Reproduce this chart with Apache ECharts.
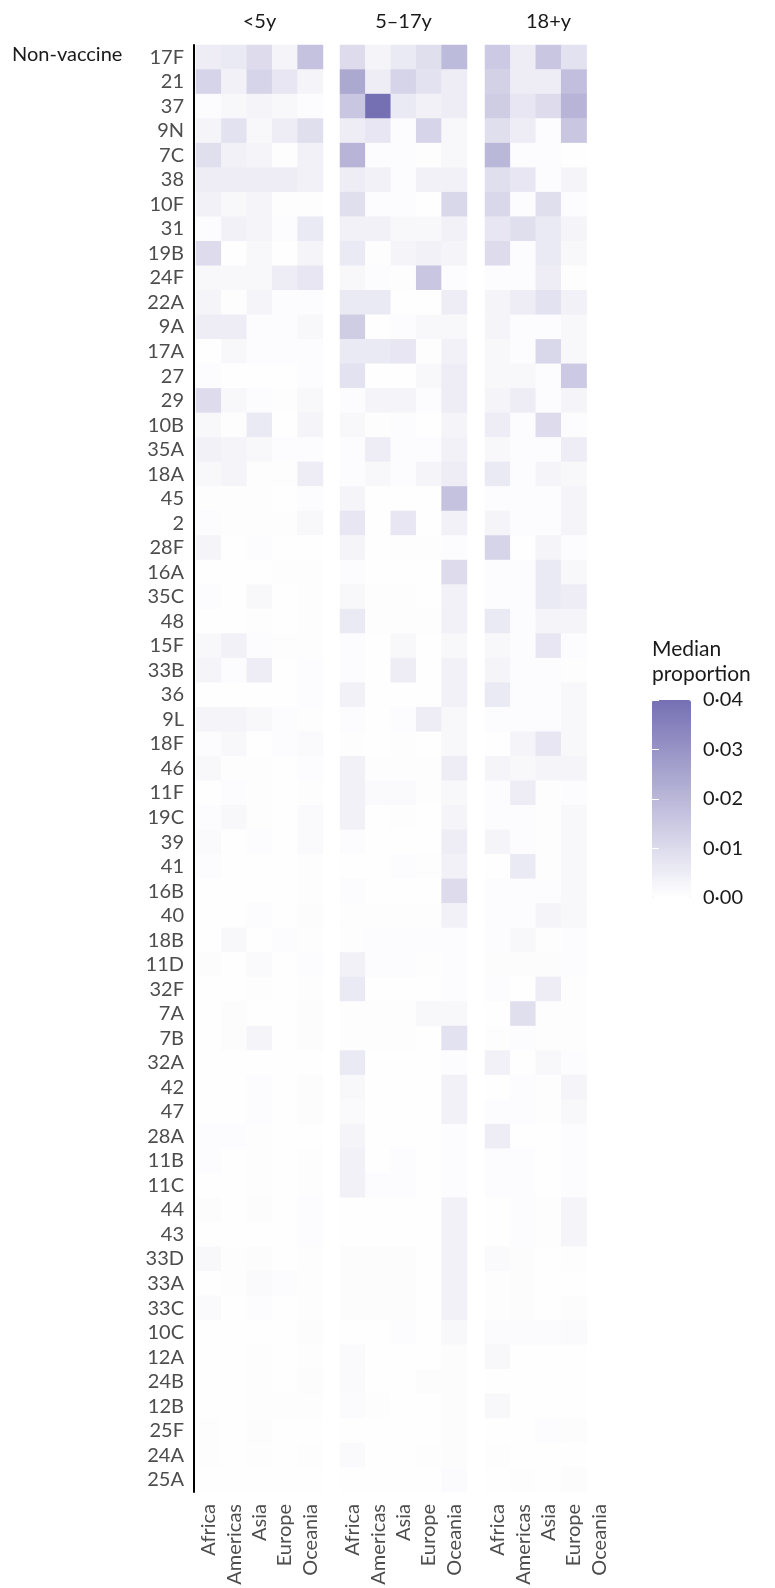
<!DOCTYPE html>
<html>
<head>
<meta charset="utf-8">
<script src="https://cdn.jsdelivr.net/npm/echarts@6/dist/echarts.min.js"></script>
<style>
  html, body { margin: 0; padding: 0; background: #ffffff; }
  #chart { width: 775px; height: 1588px; }
</style>
</head>
<body>
<div id="chart"></div>
<script>
// Median proportion of non-vaccine serotypes by age group and region
const ageGroups = ['<5y', '5–17y', '18+y'];
const regions = ['Africa', 'Americas', 'Asia', 'Europe', 'Oceania'];
const serotypes = [
  '17F', '21', '37', '9N', '7C', '38', '10F', '31', '19B', '24F',
  '22A', '9A', '17A', '27', '29', '10B', '35A', '18A', '45', '2',
  '28F', '16A', '35C', '48', '15F', '33B', '36', '9L', '18F', '46',
  '11F', '19C', '39', '41', '16B', '40', '18B', '11D', '32F', '7A',
  '7B', '32A', '42', '47', '28A', '11B', '11C', '44', '43', '33D',
  '33A', '33C', '10C', '12A', '24B', '12B', '25F', '24A', '25A'
];
const legendTicks = [0, 0.01, 0.02, 0.03, 0.04];

// <5y
const u5Africa = [
  .005, .012, .001, .003, .009, .005, .004, .001, .010, .002,
  .003, .005, .0003, .001, .010, .002, .004, .002, .0005, .001,
  .003, .0003, .001, .0003, .002, .003, .0003, .003, .001, .002,
  .0003, .001, .0015, .001, .0003, .0003, .0003, .0008, .0003, .0003,
  .0003, .0003, .0003, .0003, .001, .001, .0003, .0008, .0003, .002,
  .0003, .0015, .0003, .0003, .0003, .0003, .0005, .0005, .0003
];
const u5Americas = [
  .006, .004, .002, .008, .004, .005, .002, .004, .0003, .002,
  .0005, .005, .002, .0003, .002, .0005, .003, .003, .0005, .0005,
  .0003, .0003, .0003, .0003, .004, .001, .0003, .003, .002, .0005,
  .001, .002, .0003, .0003, .0003, .0003, .002, .0003, .0003, .0008,
  .0008, .0003, .0003, .0003, .001, .0003, .0003, .0003, .0003, .0005,
  .0005, .0003, .0003, .0003, .0003, .0003, .0003, .0003, .0003
];
const u5Asia = [
  .010, .012, .003, .002, .003, .005, .003, .003, .002, .002,
  .003, .001, .001, .0003, .001, .006, .002, .0005, .0005, .0005,
  .001, .0003, .002, .0005, .001, .005, .0003, .002, .0003, .0005,
  .0005, .0005, .001, .0003, .0003, .001, .0003, .0015, .0005, .0003,
  .003, .0003, .001, .001, .0005, .0005, .0005, .0008, .0003, .0008,
  .0015, .001, .0003, .0005, .0005, .0005, .0008, .0005, .0003
];
const u5Europe = [
  .003, .007, .002, .005, .0005, .005, .0005, .001, .0003, .005,
  .001, .001, .001, .0003, .0005, .0003, .001, .0005, .0003, .0005,
  .0003, .0005, .0003, .0003, .0005, .0003, .0003, .001, .001, .0003,
  .0003, .0003, .0003, .0003, .0003, .0003, .001, .0003, .0003, .0003,
  .0003, .0003, .0003, .0003, .0003, .0003, .0003, .0003, .0003, .0003,
  .001, .0003, .0003, .0003, .0003, .0005, .0003, .0003, .0003
];
const u5Oceania = [
  .017, .003, .001, .009, .004, .004, .0005, .006, .003, .007,
  .001, .002, .001, .001, .002, .003, .001, .005, .001, .002,
  .0003, .0005, .0005, .0005, .0005, .001, .001, .0005, .0015, .001,
  .0005, .0015, .0015, .0005, .0005, .0008, .0005, .001, .0005, .0008,
  .0008, .0003, .0008, .0008, .0003, .0005, .0005, .001, .001, .0005,
  .0005, .0005, .0008, .0005, .0008, .0005, .0003, .0005, .0003
];

// 5–17y
const childAfrica = [
  .010, .024, .016, .005, .021, .005, .009, .004, .006, .002,
  .006, .014, .006, .008, .001, .002, .001, .001, .003, .007,
  .003, .001, .002, .006, .001, .001, .004, .001, .0005, .004,
  .004, .004, .001, .0003, .001, .0005, .0005, .004, .006, .0005,
  .0005, .006, .002, .0015, .003, .004, .004, .0003, .0003, .0008,
  .0008, .0008, .0003, .0015, .0015, .0012, .0003, .0015, .0003
];
const childAmericas = [
  .003, .005, .040, .007, .001, .004, .001, .004, .0005, .001,
  .006, .0003, .006, .0003, .003, .0005, .005, .002, .0003, .0003,
  .0003, .0003, .0005, .0005, .0003, .0003, .0003, .0003, .0003, .0005,
  .0015, .0003, .0003, .0003, .0003, .0005, .001, .001, .0003, .0005,
  .0005, .0003, .0003, .0003, .0003, .0003, .001, .0003, .0003, .0008,
  .0008, .0008, .0003, .0003, .0003, .0005, .0003, .0003, .0003
];
const childAsia = [
  .006, .012, .006, .001, .001, .001, .001, .002, .003, .0005,
  .0003, .001, .007, .0003, .003, .001, .001, .001, .0003, .007,
  .0005, .0003, .0005, .0005, .002, .005, .0003, .001, .0005, .0005,
  .0015, .0005, .0003, .001, .0003, .0005, .001, .001, .0003, .0005,
  .0005, .0003, .0003, .0003, .0003, .001, .001, .0003, .0003, .0008,
  .0008, .0008, .001, .0003, .0003, .0003, .0003, .0003, .0003
];
const childEurope = [
  .009, .008, .004, .012, .0005, .004, .0003, .002, .004, .016,
  .0003, .002, .0005, .002, .001, .0003, .001, .003, .0003, .0003,
  .0005, .0003, .0003, .0005, .0003, .0003, .0003, .005, .0003, .0005,
  .0005, .0003, .0003, .0005, .0003, .0005, .001, .0005, .0003, .002,
  .0003, .0003, .0003, .0003, .0003, .0003, .0003, .0003, .0003, .0003,
  .0003, .0003, .0003, .0003, .0008, .0003, .0003, .0005, .0003
];
const childOceania = [
  .019, .005, .005, .002, .002, .004, .011, .004, .003, .001,
  .005, .002, .004, .005, .005, .003, .004, .005, .017, .004,
  .001, .010, .004, .004, .002, .004, .004, .002, .002, .005,
  .002, .003, .005, .004, .010, .004, .001, .001, .001, .002,
  .008, .001, .004, .004, .001, .001, .001, .004, .004, .004,
  .004, .004, .002, .0008, .0008, .0008, .0008, .0008, .0012
];

// 18+y
const adultAfrica = [
  .015, .013, .014, .009, .020, .009, .011, .007, .010, .001,
  .003, .003, .002, .002, .003, .005, .002, .006, .001, .003,
  .012, .001, .001, .006, .002, .003, .006, .001, .0003, .003,
  .001, .001, .003, .0003, .001, .001, .001, .0008, .001, .0003,
  .0005, .004, .0003, .001, .005, .001, .001, .0003, .0003, .0015,
  .0005, .0005, .0012, .002, .0003, .002, .0003, .0005, .0003
];
const adultAmericas = [
  .005, .005, .007, .005, .001, .007, .001, .009, .001, .001,
  .005, .001, .001, .002, .005, .001, .001, .001, .001, .001,
  .0003, .001, .001, .001, .001, .001, .001, .001, .003, .002,
  .005, .001, .001, .006, .001, .001, .002, .0008, .0003, .009,
  .001, .0003, .001, .001, .0003, .001, .001, .001, .001, .0008,
  .0008, .0008, .0012, .0003, .0003, .0003, .0003, .0003, .0005
];
const adultAsia = [
  .016, .005, .010, .001, .001, .001, .009, .006, .006, .005,
  .008, .001, .011, .001, .001, .010, .001, .003, .001, .001,
  .003, .006, .006, .003, .007, .001, .001, .001, .007, .003,
  .0005, .0005, .0005, .0005, .001, .003, .0005, .0008, .005, .0005,
  .0005, .002, .0005, .0005, .0003, .0003, .0003, .0005, .0005, .0003,
  .0003, .0003, .0012, .0003, .0003, .0003, .001, .0003, .0003
];
const adultEurope = [
  .008, .018, .021, .016, .0003, .003, .001, .003, .002, .0005,
  .004, .002, .002, .015, .003, .001, .005, .002, .003, .003,
  .001, .002, .005, .003, .001, .0005, .002, .002, .002, .003,
  .001, .002, .002, .002, .002, .002, .001, .001, .0005, .0005,
  .0005, .001, .003, .002, .001, .001, .001, .003, .003, .0005,
  .0003, .0008, .0015, .0003, .0003, .0003, .0008, .0003, .0008
];
const adultOceania = []; // no estimates for this group

const panelColumns = [
  [u5Africa, u5Americas, u5Asia, u5Europe, u5Oceania],
  [childAfrica, childAmericas, childAsia, childEurope, childOceania],
  [adultAfrica, adultAmericas, adultAsia, adultEurope, adultOceania]
];

function toCells(columns) {
  const out = [];
  columns.forEach(function (col, x) {
    col.forEach(function (v, y) { out.push([x, y, v]); });
  });
  return out;
}

const FONT = 'Lato';
const panelLefts = [196, 340, 485];
const panelWidth = 127;
const panelTop = 45;
const panelHeight = 1447;
const bar = { left: 652, top: 700, width: 39, height: 198 };

const grids = panelLefts.map(function (l) {
  return { left: l, width: panelWidth, top: panelTop, height: panelHeight };
});
grids.push({ left: bar.left, top: bar.top, width: bar.width, height: bar.height });

const xAxes = [];
panelLefts.forEach(function (l, i) {
  xAxes.push({
    gridIndex: i, type: 'category', data: regions, position: 'bottom',
    axisLine: { show: false }, axisTick: { show: false }, splitLine: { show: false },
    axisLabel: { rotate: 90, margin: 12, fontSize: 20, color: '#4d4d4d', fontFamily: FONT, interval: 0 }
  });
  xAxes.push({
    gridIndex: i, type: 'category', data: regions, position: 'top',
    axisLine: { show: false }, axisTick: { show: false }, axisLabel: { show: false },
    splitLine: { show: false },
    name: ageGroups[i], nameLocation: 'middle', nameGap: 13,
    nameTextStyle: { fontSize: 20, color: '#1a1a1a', fontFamily: FONT }
  });
});
xAxes.push({ gridIndex: 3, type: 'value', show: false, min: 0, max: 1 });

const yAxes = panelLefts.map(function (l, i) {
  return {
    gridIndex: i, type: 'category', data: serotypes, inverse: true,
    show: i === 0, offset: 2,
    axisLine: { show: i === 0, lineStyle: { color: '#000000', width: 2 } },
    axisTick: { show: false }, splitLine: { show: false },
    axisLabel: { margin: 10, fontSize: 20, color: '#4d4d4d', fontFamily: FONT, interval: 0 }
  };
});
const tickFmt = function (v) { return v.toFixed(2).replace('.', '\u00b7'); };
yAxes.push({
  gridIndex: 3, type: 'value', position: 'right', min: 0, max: 0.04, interval: 0.01, z: 10,
  axisLine: { show: false }, splitLine: { show: false },
  axisTick: { show: true, inside: true, length: 7, lineStyle: { color: '#ffffff', width: 1 } },
  axisLabel: { margin: 12, fontSize: 20, color: '#1a1a1a', fontFamily: FONT, formatter: tickFmt }
});
yAxes.push({
  gridIndex: 3, type: 'value', position: 'left', min: 0, max: 0.04, interval: 0.01, z: 10,
  axisLine: { show: false }, splitLine: { show: false }, axisLabel: { show: false },
  axisTick: { show: true, inside: true, length: 7, lineStyle: { color: '#ffffff', width: 1 } }
});

const series = panelColumns.map(function (cols, i) {
  return {
    type: 'heatmap', xAxisIndex: 2 * i, yAxisIndex: i,
    data: toCells(cols), silent: true, progressive: 0,
    emphasis: { disabled: true }
  };
});

const chart = echarts.init(document.getElementById('chart'), null, { renderer: 'canvas' });
chart.setOption({
  backgroundColor: '#ffffff',
  animation: false,
  textStyle: { fontFamily: FONT },
  grid: grids,
  xAxis: xAxes,
  yAxis: yAxes,
  visualMap: {
    type: 'continuous', min: 0, max: 0.04, seriesIndex: [0, 1, 2],
    calculable: false, hoverLink: false, padding: 0,
    left: bar.left, top: bar.top, itemWidth: bar.width, itemHeight: bar.height,
    inRange: { color: ['#ffffff', '#7570b3'] }
  },
  graphic: [
    { type: 'text', left: 12, top: 45,
      style: { text: 'Non-vaccine', fontSize: 20, fill: '#1a1a1a', fontFamily: FONT } },
    { type: 'text', left: bar.left, top: 637,
      style: { text: 'Median\nproportion', fontSize: 21, lineHeight: 25, fill: '#1a1a1a', fontFamily: FONT } }
  ],
  series: series
});
</script>
</body>
</html>
